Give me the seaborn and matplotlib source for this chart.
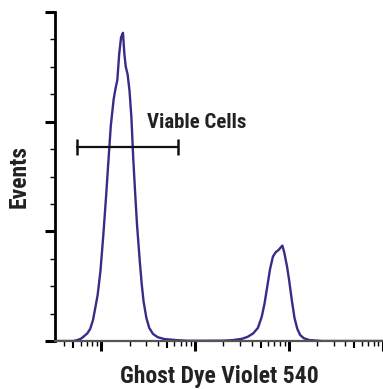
import numpy as np
import pandas as pd
import matplotlib
matplotlib.use("Agg")
import matplotlib.pyplot as plt
import matplotlib.ticker as mticker
import seaborn as sns

# --- data (log10 of fluorescence, event count) ---
log_intensity = [1.50, 1.70, 1.74, 1.78, 1.81, 1.85, 1.88, 1.91, 1.93, 1.96, 1.99,
                 2.02, 2.05, 2.07, 2.10, 2.13, 2.15, 2.17, 2.19, 2.21, 2.23, 2.245,
                 2.26, 2.28, 2.30, 2.32, 2.34, 2.36, 2.38, 2.41, 2.43, 2.45, 2.48,
                 2.51, 2.55, 2.60, 2.67, 2.80, 2.93, 3.30, 3.40, 3.50, 3.56, 3.62,
                 3.67, 3.71, 3.74, 3.77, 3.80, 3.83, 3.86, 3.89, 3.91, 3.93, 3.95,
                 3.98, 4.00, 4.03, 4.06, 4.09, 4.12, 4.16, 4.22, 4.36, 5.00]
events = [0, 0, 0.8, 2.0, 4.0, 7.0, 11, 19, 28, 42, 64,
          96, 132, 158, 196, 220, 230, 238, 262, 277, 281, 262,
          250, 243, 228, 204, 166, 135, 106, 72, 52, 36, 21,
          12, 6.5, 3.5, 1.8, 0.8, 0.2, 0.3, 0.8, 2.0, 3.8, 7.0,
          12, 22, 34, 50, 66, 77, 81, 83, 85, 87, 81,
          68, 57, 38, 21, 11, 5.5, 2.5, 0.8, 0, 0]

gate_name = "Viable Cells"
gate_range = [55, 656]
gate_level = 177

x_label = "Ghost Dye Violet 540"
y_label = "Events"

df = pd.DataFrame({"intensity": np.power(10.0, log_intensity), "events": events})

sns.set_style("ticks")
plt.rcParams["font.family"] = ["Roboto Condensed", "Barlow Semi Condensed", "DejaVu Sans"]

fig = plt.figure(figsize=(3.83, 3.89), dpi=100)
ax = fig.add_axes([55 / 383, 48 / 389, 328 / 383, 329 / 389])

sns.lineplot(data=df, x="intensity", y="events", color="#3a2a8a", lw=1.7, ax=ax)

ax.set_xscale("log")
ax.set_xlim(10 ** 1.505, 10 ** 5.004)
ax.set_ylim(0, 300)

# x ticks: decades, minor 2..9 (5x drawn longer on a secondary axis)
ax.xaxis.set_major_locator(mticker.FixedLocator([1e2, 1e3, 1e4, 1e5]))
minors = [m * 10.0 ** d for d in range(1, 5) for m in (2, 3, 4, 6, 7, 8, 9)]
ax.xaxis.set_minor_locator(mticker.FixedLocator(minors))
ax.xaxis.set_major_formatter(mticker.NullFormatter())
ax.xaxis.set_minor_formatter(mticker.NullFormatter())
ax.yaxis.set_major_locator(mticker.MultipleLocator(100))
ax.yaxis.set_minor_locator(mticker.MultipleLocator(25))
ax.yaxis.set_major_formatter(mticker.NullFormatter())

ax.tick_params(which="major", direction="out", length=7, width=2.2, color="black")
ax.tick_params(which="minor", direction="out", length=3.5, width=1.0, color="black")

sec = ax.secondary_xaxis("bottom")
sec.set_xscale("log")
sec.xaxis.set_major_locator(mticker.FixedLocator([5 * 10.0 ** d for d in range(1, 5)]))
sec.xaxis.set_minor_locator(mticker.NullLocator())
sec.xaxis.set_major_formatter(mticker.NullFormatter())
sec.tick_params(which="major", direction="out", length=5, width=1.5, color="black")
sec.spines["bottom"].set_visible(False)

sns.despine(ax=ax)
ax.spines["left"].set_linewidth(2.0)
ax.spines["left"].set_color("black")
ax.spines["bottom"].set_linewidth(1.6)
ax.spines["bottom"].set_color("#555555")

# gate
ax.plot(gate_range, [gate_level, gate_level], color="#111111", lw=1.6,
        marker="|", markersize=11, markeredgewidth=1.8)
ax.text(303, 199, gate_name, ha="left", va="center",
        fontsize=15, fontweight="bold", color="#222222")

ax.set_xlabel(x_label, fontsize=17, fontweight="bold", color="#222222", labelpad=7)
ax.set_ylabel(y_label, fontsize=17, fontweight="bold", color="#222222", labelpad=7)

fig.savefig("out.png", dpi=100)
